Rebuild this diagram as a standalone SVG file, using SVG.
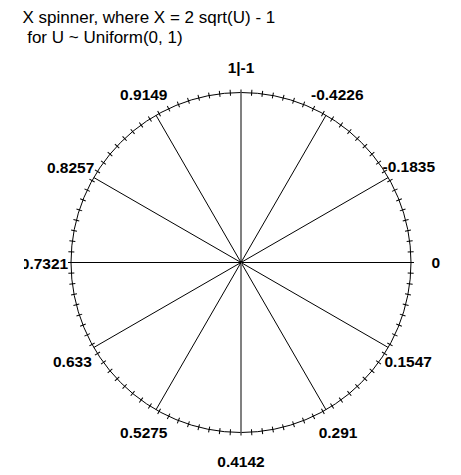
<svg xmlns="http://www.w3.org/2000/svg" xmlns:xlink="http://www.w3.org/1999/xlink" width="461" height="475" viewBox="0 0 461 475">
<style>
.title{font-family:"Liberation Sans",Arial,sans-serif;font-size:17px;fill:#000}
.lbl{font-family:"Liberation Sans",Arial,sans-serif;font-size:15.5px;font-weight:bold;fill:#000}
.ln{stroke:#000;stroke-width:1;fill:none}
.vert{stroke:#808080;stroke-width:2;fill:none}
</style>
<defs>
<line id="tick" x1="241" y1="89.5" x2="241" y2="95.5" stroke="#000" stroke-width="1"/>
<clipPath id="plotclip"><rect x="24" y="0" width="437" height="475"/></clipPath>
</defs>
<rect width="461" height="475" fill="#fff"/>
<g id="title" class="title">
<text x="22.5" y="23.3">X spinner, where X = 2 sqrt(U) - 1</text>
<text x="27.2" y="42.7">for U ~ Uniform(0, 1)</text>
</g>
<g id="dial">
<circle class="ln" cx="241" cy="262.5" r="170"/>
<g id="ticks">
<use xlink:href="#tick" transform="rotate(0 241 262.5)"/><use xlink:href="#tick" transform="rotate(3.6 241 262.5)"/><use xlink:href="#tick" transform="rotate(7.2 241 262.5)"/><use xlink:href="#tick" transform="rotate(10.8 241 262.5)"/><use xlink:href="#tick" transform="rotate(14.4 241 262.5)"/><use xlink:href="#tick" transform="rotate(18 241 262.5)"/><use xlink:href="#tick" transform="rotate(21.6 241 262.5)"/><use xlink:href="#tick" transform="rotate(25.2 241 262.5)"/><use xlink:href="#tick" transform="rotate(28.8 241 262.5)"/><use xlink:href="#tick" transform="rotate(32.4 241 262.5)"/>
<use xlink:href="#tick" transform="rotate(36 241 262.5)"/><use xlink:href="#tick" transform="rotate(39.6 241 262.5)"/><use xlink:href="#tick" transform="rotate(43.2 241 262.5)"/><use xlink:href="#tick" transform="rotate(46.8 241 262.5)"/><use xlink:href="#tick" transform="rotate(50.4 241 262.5)"/><use xlink:href="#tick" transform="rotate(54 241 262.5)"/><use xlink:href="#tick" transform="rotate(57.6 241 262.5)"/><use xlink:href="#tick" transform="rotate(61.2 241 262.5)"/><use xlink:href="#tick" transform="rotate(64.8 241 262.5)"/><use xlink:href="#tick" transform="rotate(68.4 241 262.5)"/>
<use xlink:href="#tick" transform="rotate(72 241 262.5)"/><use xlink:href="#tick" transform="rotate(75.6 241 262.5)"/><use xlink:href="#tick" transform="rotate(79.2 241 262.5)"/><use xlink:href="#tick" transform="rotate(82.8 241 262.5)"/><use xlink:href="#tick" transform="rotate(86.4 241 262.5)"/><use xlink:href="#tick" transform="rotate(90 241 262.5)"/><use xlink:href="#tick" transform="rotate(93.6 241 262.5)"/><use xlink:href="#tick" transform="rotate(97.2 241 262.5)"/><use xlink:href="#tick" transform="rotate(100.8 241 262.5)"/><use xlink:href="#tick" transform="rotate(104.4 241 262.5)"/>
<use xlink:href="#tick" transform="rotate(108 241 262.5)"/><use xlink:href="#tick" transform="rotate(111.6 241 262.5)"/><use xlink:href="#tick" transform="rotate(115.2 241 262.5)"/><use xlink:href="#tick" transform="rotate(118.8 241 262.5)"/><use xlink:href="#tick" transform="rotate(122.4 241 262.5)"/><use xlink:href="#tick" transform="rotate(126 241 262.5)"/><use xlink:href="#tick" transform="rotate(129.6 241 262.5)"/><use xlink:href="#tick" transform="rotate(133.2 241 262.5)"/><use xlink:href="#tick" transform="rotate(136.8 241 262.5)"/><use xlink:href="#tick" transform="rotate(140.4 241 262.5)"/>
<use xlink:href="#tick" transform="rotate(144 241 262.5)"/><use xlink:href="#tick" transform="rotate(147.6 241 262.5)"/><use xlink:href="#tick" transform="rotate(151.2 241 262.5)"/><use xlink:href="#tick" transform="rotate(154.8 241 262.5)"/><use xlink:href="#tick" transform="rotate(158.4 241 262.5)"/><use xlink:href="#tick" transform="rotate(162 241 262.5)"/><use xlink:href="#tick" transform="rotate(165.6 241 262.5)"/><use xlink:href="#tick" transform="rotate(169.2 241 262.5)"/><use xlink:href="#tick" transform="rotate(172.8 241 262.5)"/><use xlink:href="#tick" transform="rotate(176.4 241 262.5)"/>
<use xlink:href="#tick" transform="rotate(180 241 262.5)"/><use xlink:href="#tick" transform="rotate(183.6 241 262.5)"/><use xlink:href="#tick" transform="rotate(187.2 241 262.5)"/><use xlink:href="#tick" transform="rotate(190.8 241 262.5)"/><use xlink:href="#tick" transform="rotate(194.4 241 262.5)"/><use xlink:href="#tick" transform="rotate(198 241 262.5)"/><use xlink:href="#tick" transform="rotate(201.6 241 262.5)"/><use xlink:href="#tick" transform="rotate(205.2 241 262.5)"/><use xlink:href="#tick" transform="rotate(208.8 241 262.5)"/><use xlink:href="#tick" transform="rotate(212.4 241 262.5)"/>
<use xlink:href="#tick" transform="rotate(216 241 262.5)"/><use xlink:href="#tick" transform="rotate(219.6 241 262.5)"/><use xlink:href="#tick" transform="rotate(223.2 241 262.5)"/><use xlink:href="#tick" transform="rotate(226.8 241 262.5)"/><use xlink:href="#tick" transform="rotate(230.4 241 262.5)"/><use xlink:href="#tick" transform="rotate(234 241 262.5)"/><use xlink:href="#tick" transform="rotate(237.6 241 262.5)"/><use xlink:href="#tick" transform="rotate(241.2 241 262.5)"/><use xlink:href="#tick" transform="rotate(244.8 241 262.5)"/><use xlink:href="#tick" transform="rotate(248.4 241 262.5)"/>
<use xlink:href="#tick" transform="rotate(252 241 262.5)"/><use xlink:href="#tick" transform="rotate(255.6 241 262.5)"/><use xlink:href="#tick" transform="rotate(259.2 241 262.5)"/><use xlink:href="#tick" transform="rotate(262.8 241 262.5)"/><use xlink:href="#tick" transform="rotate(266.4 241 262.5)"/><use xlink:href="#tick" transform="rotate(270 241 262.5)"/><use xlink:href="#tick" transform="rotate(273.6 241 262.5)"/><use xlink:href="#tick" transform="rotate(277.2 241 262.5)"/><use xlink:href="#tick" transform="rotate(280.8 241 262.5)"/><use xlink:href="#tick" transform="rotate(284.4 241 262.5)"/>
<use xlink:href="#tick" transform="rotate(288 241 262.5)"/><use xlink:href="#tick" transform="rotate(291.6 241 262.5)"/><use xlink:href="#tick" transform="rotate(295.2 241 262.5)"/><use xlink:href="#tick" transform="rotate(298.8 241 262.5)"/><use xlink:href="#tick" transform="rotate(302.4 241 262.5)"/><use xlink:href="#tick" transform="rotate(306 241 262.5)"/><use xlink:href="#tick" transform="rotate(309.6 241 262.5)"/><use xlink:href="#tick" transform="rotate(313.2 241 262.5)"/><use xlink:href="#tick" transform="rotate(316.8 241 262.5)"/><use xlink:href="#tick" transform="rotate(320.4 241 262.5)"/>
<use xlink:href="#tick" transform="rotate(324 241 262.5)"/><use xlink:href="#tick" transform="rotate(327.6 241 262.5)"/><use xlink:href="#tick" transform="rotate(331.2 241 262.5)"/><use xlink:href="#tick" transform="rotate(334.8 241 262.5)"/><use xlink:href="#tick" transform="rotate(338.4 241 262.5)"/><use xlink:href="#tick" transform="rotate(342 241 262.5)"/><use xlink:href="#tick" transform="rotate(345.6 241 262.5)"/><use xlink:href="#tick" transform="rotate(349.2 241 262.5)"/><use xlink:href="#tick" transform="rotate(352.8 241 262.5)"/><use xlink:href="#tick" transform="rotate(356.4 241 262.5)"/>
</g>
</g>
<g id="spokes" class="ln">
<line class="vert" x1="241" y1="262.5" x2="241" y2="92.5"/>
<line x1="241" y1="262.5" x2="326" y2="115.28"/>
<line x1="241" y1="262.5" x2="388.22" y2="177.5"/>
<line x1="241" y1="262.5" x2="411" y2="262.5"/>
<line x1="241" y1="262.5" x2="388.22" y2="347.5"/>
<line x1="241" y1="262.5" x2="326" y2="409.72"/>
<line class="vert" x1="241" y1="262.5" x2="241" y2="432.5"/>
<line x1="241" y1="262.5" x2="156" y2="409.72"/>
<line x1="241" y1="262.5" x2="93.78" y2="347.5"/>
<line x1="241" y1="262.5" x2="71" y2="262.5"/>
<line x1="241" y1="262.5" x2="93.78" y2="177.5"/>
<line x1="241" y1="262.5" x2="156" y2="115.28"/>
</g>
<g id="labels" class="lbl" clip-path="url(#plotclip)">
<g id="lbl-0"><text x="241" y="73" text-anchor="middle">1|-1</text></g>
<g id="lbl-30"><text x="311" y="99.5">-0.4226</text></g>
<g id="lbl-60"><text x="382.5" y="171.5">-0.1835</text></g>
<g id="lbl-90"><text x="431.5" y="267.8">0</text></g>
<g id="lbl-120"><text x="384.5" y="366.8">0.1547</text></g>
<g id="lbl-150"><text x="318.7" y="438.4">0.291</text></g>
<g id="lbl-180"><text x="241" y="466.8" text-anchor="middle">0.4142</text></g>
<g id="lbl-210"><text x="167.5" y="438.4" text-anchor="end">0.5275</text></g>
<g id="lbl-240"><text x="91.8" y="366.8" text-anchor="end">0.633</text></g>
<g id="lbl-270"><text x="68.2" y="268.5" text-anchor="end">0.7321</text></g>
<g id="lbl-300"><text x="94.3" y="172.6" text-anchor="end">0.8257</text></g>
<g id="lbl-330"><text x="167.5" y="99.5" text-anchor="end">0.9149</text></g>
</g>
</svg>
